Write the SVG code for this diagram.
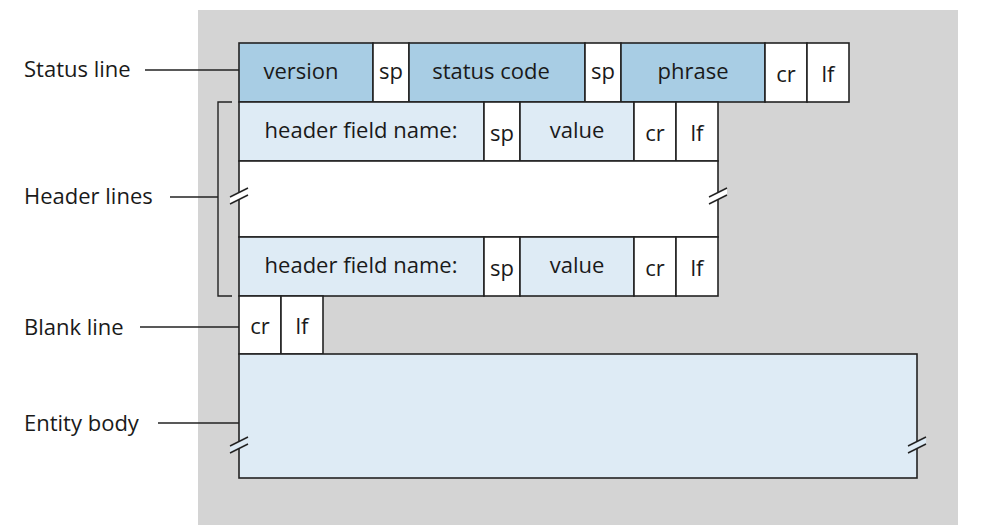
<svg xmlns="http://www.w3.org/2000/svg" width="982" height="531" viewBox="0 0 982 531">
<defs><style>
rect{stroke:#222;stroke-width:1.6}
.d{fill:#a8cde4}.l{fill:#deebf5}.w{fill:#fff}
text{font-family:"Open Sans","Noto Sans",sans-serif;font-size:22px;fill:#1a1a1a}
.c{text-anchor:middle}
.ln{stroke:#222;stroke-width:1.4;fill:none}
</style>
<g id="brk"><polygon points="231,197 249,188 249,195 231,204" fill="#d4d4d4"/><line x1="231" y1="197" x2="249" y2="188" class="ln"/><line x1="231" y1="204" x2="249" y2="195" class="ln"/></g>
<g id="brkw"><polygon points="-9,4 9,-5 9,2 -9,11" fill="#fff"/><line x1="-9" y1="4" x2="9" y2="-5" class="ln"/><line x1="-9" y1="11" x2="9" y2="2" class="ln"/></g>
<g id="brkl"><polygon points="-9,4 9,-5 9,2 -9,11" fill="#deebf5"/><line x1="-9" y1="4" x2="9" y2="-5" class="ln"/><line x1="-9" y1="11" x2="9" y2="2" class="ln"/></g>
</defs>
<rect x="198" y="10" width="760" height="515" fill="#d4d4d4" style="stroke:none"/>
<g id="status">
<rect class="d" x="239" y="43" width="134" height="59"/><text class="c" x="301" y="79">version</text>
<rect class="w" x="373" y="43" width="36" height="59"/><text class="c" x="391" y="79">sp</text>
<rect class="d" x="409" y="43" width="176" height="59"/><text class="c" x="491" y="79">status code</text>
<rect class="w" x="585" y="43" width="36" height="59"/><text class="c" x="603" y="79">sp</text>
<rect class="d" x="621" y="43" width="144" height="59"/><text class="c" x="693" y="79">phrase</text>
<rect class="w" x="765" y="43" width="42" height="59"/><text class="c" x="786" y="82">cr</text>
<rect class="w" x="807" y="43" width="42" height="59"/><text class="c" x="828" y="82">lf</text>
</g>
<g id="header1">
<rect class="l" x="239" y="102" width="245" height="59"/><text class="c" x="361" y="138">header field name:</text>
<rect class="w" x="484" y="102" width="36" height="59"/><text class="c" x="502" y="141">sp</text>
<rect class="l" x="520" y="102" width="114" height="59"/><text class="c" x="577" y="138">value</text>
<rect class="w" x="634" y="102" width="42" height="59"/><text class="c" x="655" y="141">cr</text>
<rect class="w" x="676" y="102" width="42" height="59"/><text class="c" x="697" y="141">lf</text>
</g>
<g id="middle"><rect class="w" x="239" y="161" width="479" height="76"/>
<use href="#brkw" x="239" y="193"/><use href="#brkw" x="718" y="193"/></g>
<g id="header2">
<rect class="l" x="239" y="237" width="245" height="59"/><text class="c" x="361" y="273">header field name:</text>
<rect class="w" x="484" y="237" width="36" height="59"/><text class="c" x="502" y="276">sp</text>
<rect class="l" x="520" y="237" width="114" height="59"/><text class="c" x="577" y="273">value</text>
<rect class="w" x="634" y="237" width="42" height="59"/><text class="c" x="655" y="276">cr</text>
<rect class="w" x="676" y="237" width="42" height="59"/><text class="c" x="697" y="276">lf</text>
</g>
<g id="blank">
<rect class="w" x="239" y="296" width="42" height="58"/><text class="c" x="260" y="334">cr</text>
<rect class="w" x="281" y="296" width="42" height="58"/><text class="c" x="302" y="334">lf</text>
</g>
<g id="entity"><rect class="l" x="239" y="354" width="678" height="124"/>
<use href="#brkl" x="239" y="442"/><use href="#brkl" x="917" y="442"/></g>
<g id="labels">
<text x="24" y="77">Status line</text>
<text x="24" y="204">Header lines</text>
<text x="24" y="335">Blank line</text>
<text x="24" y="431">Entity body</text>
</g>
<g id="connectors">
<line class="ln" x1="145" y1="70" x2="239" y2="70"/>
<line class="ln" x1="170" y1="197" x2="218" y2="197"/>
<polyline class="ln" points="232,102 218,102 218,296 232,296"/>
<line class="ln" x1="140" y1="327" x2="239" y2="327"/>
<line class="ln" x1="158" y1="423" x2="239" y2="423"/>
</g>
</svg>
